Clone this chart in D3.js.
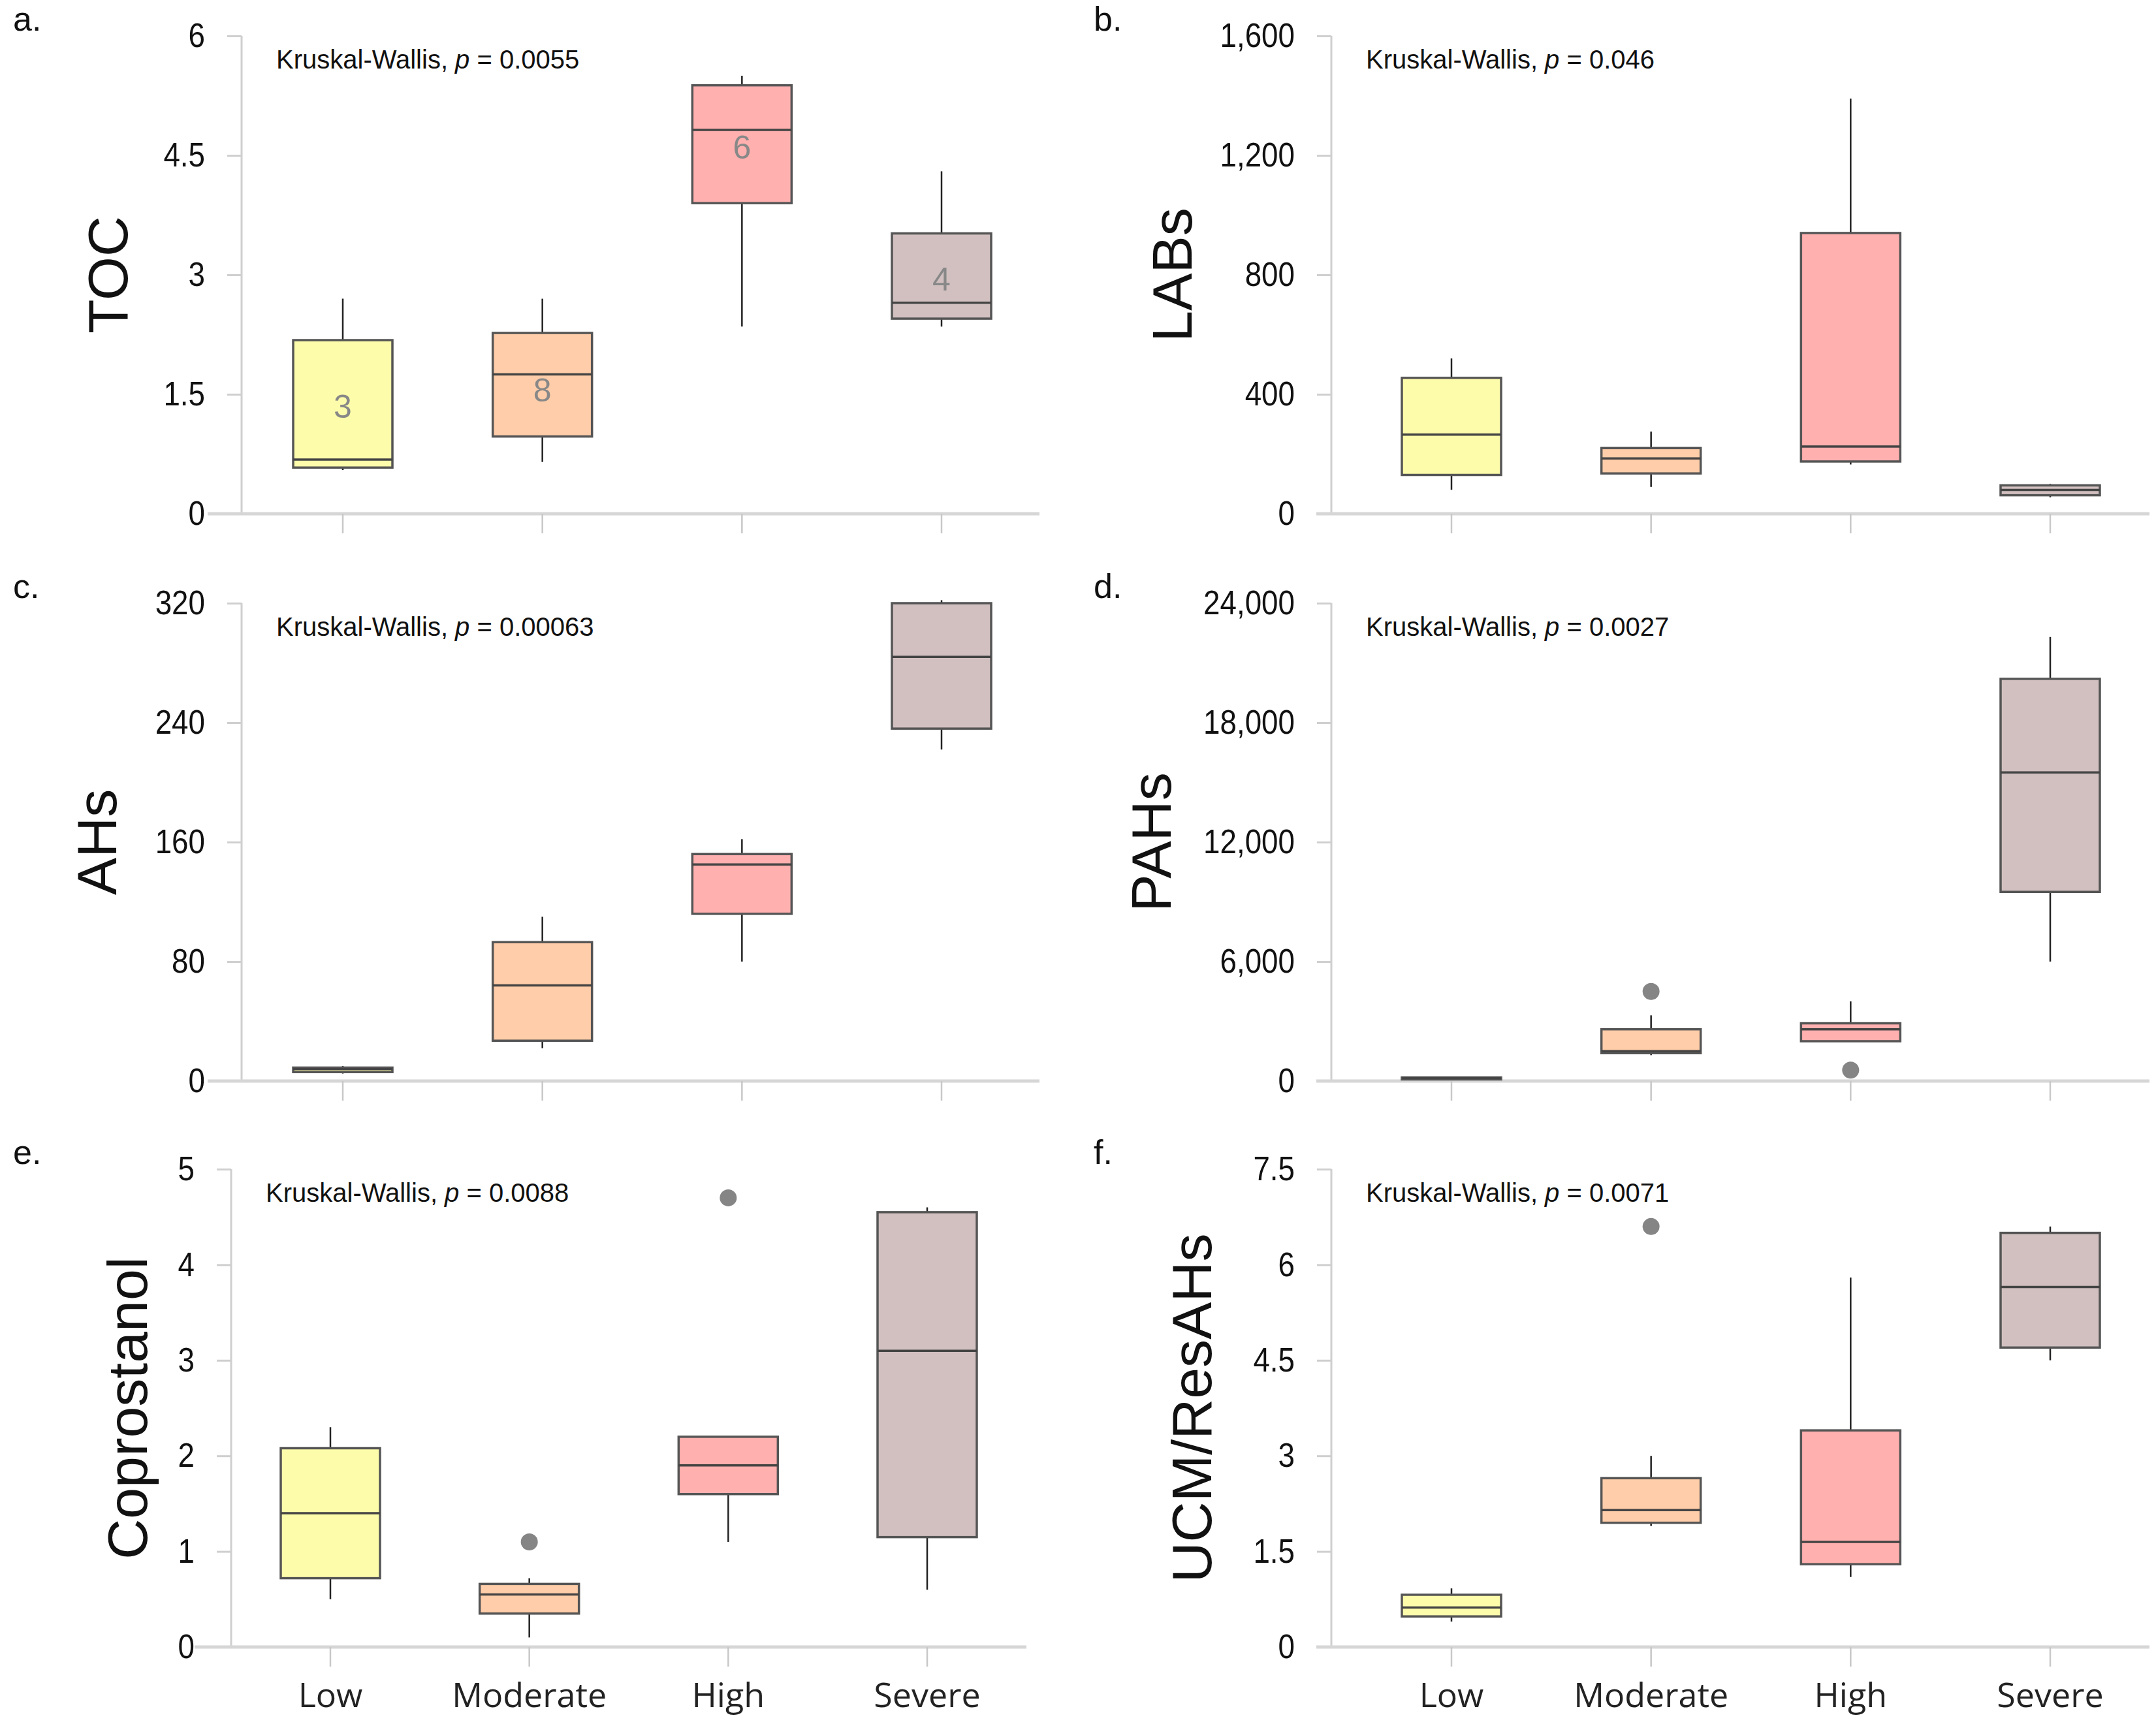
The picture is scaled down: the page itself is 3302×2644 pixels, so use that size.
<!DOCTYPE html>
<html><head><meta charset="utf-8">
<script src="https://cdn.jsdelivr.net/npm/d3@7"></script>
<style>body{margin:0;background:#fff}</style>
</head><body>
<svg id="chart" width="3302" height="2644"></svg>
<script>
// groups
var categories = ["Low", "Moderate", "High", "Severe"];
var fills = ["#fdfcab", "#ffcda9", "#ffb0af", "#d2c0c0"];

// each panel: [min, q1, median, q3, max] per group
var tocStats = [[0.55,0.58,0.68,2.18,2.7],[0.65,0.97,1.75,2.27,2.7],[2.35,3.9,4.82,5.38,5.5],[2.35,2.45,2.65,3.52,4.3]];
var tocCounts = [3, 8, 6, 4];
var tocCountPos = [1.35, 1.55, 4.6, 2.95];
var labStats = [[80,130,265,455,520],[90,135,185,220,275],[165,175,225,940,1390],[55,62,80,95,100]];
var ahStats = [[5,6,8,9,10],[22,27,64,93,110],[80,112,145,152,162],[222,236,284,320,322]];
var pahStats = [[100,120,150,180,200],[1300,1400,1500,2600,3300],[2000,2000,2600,2900,4000],[6000,9500,15500,20200,22300]];
var pahOutliers = [[],[4500],[550],[]];
var copStats = [[0.5,0.72,1.4,2.08,2.3],[0.1,0.35,0.55,0.66,0.72],[1.1,1.6,1.9,2.2,2.2],[0.6,1.15,3.1,4.55,4.6]];
var copOutliers = [[],[1.1],[4.7],[]];
var ucmStats = [[0.4,0.48,0.62,0.82,0.92],[1.9,1.95,2.15,2.65,3.0],[1.1,1.3,1.65,3.4,5.8],[4.5,4.7,5.65,6.5,6.6]];
var ucmOutliers = [[],[6.6],[],[]];

var tocTicks = [0,1.5,3,4.5,6];
var labTicks = [0,400,800,1200,1600];
var ahTicks = [0,80,160,240,320];
var pahTicks = [0,6000,12000,18000,24000];
var copTicks = [0,1,2,3,4,5];
var ucmTicks = [0,1.5,3,4.5,6,7.5];

var panels = [
  {tag:"a.", title:"TOC", p:"0.0055", stats:tocStats, ticks:tocTicks, out:null, counts:tocCounts, countPos:tocCountPos,
   ax:370, top:55, bottom:787, x0:318, x1:1592, c0:525, c1:1442, tx:165},
  {tag:"b.", title:"LABs", p:"0.046", stats:labStats, ticks:labTicks, out:null,
   ax:2039, top:55, bottom:787, x0:2016, x1:3292, c0:2223, c1:3140, tx:1795},
  {tag:"c.", title:"AHs", p:"0.00063", stats:ahStats, ticks:ahTicks, out:null,
   ax:370, top:924, bottom:1656, x0:318, x1:1592, c0:525, c1:1442, tx:148},
  {tag:"d.", title:"PAHs", p:"0.0027", stats:pahStats, ticks:pahTicks, out:pahOutliers,
   ax:2039, top:924, bottom:1656, x0:2016, x1:3292, c0:2223, c1:3140, tx:1763},
  {tag:"e.", title:"Coprostanol", p:"0.0088", stats:copStats, ticks:copTicks, out:copOutliers,
   ax:354, top:1791, bottom:2523, x0:298, x1:1572, c0:506, c1:1420, tx:195, xlabels:true},
  {tag:"f.", title:"UCM/ResAHs", p:"0.0071", stats:ucmStats, ticks:ucmTicks, out:ucmOutliers,
   ax:2039, top:1791, bottom:2523, x0:2016, x1:3292, c0:2223, c1:3140, tx:1825, xlabels:true}
];

var svg = d3.select("#chart");
var fmt = d3.format(",");

panels.forEach(function(pn) {
  var g = svg.append("g");
  var y = d3.scaleLinear().domain([0, pn.ticks[pn.ticks.length-1]]).range([pn.bottom, pn.top]);
  var x = d3.scalePoint().domain(categories).range([pn.c0, pn.c1]);
  var bw = 152;

  // y axis
  var ya = g.append("g").attr("transform", "translate(" + pn.ax + ",0)")
    .call(d3.axisLeft(y).tickValues(pn.ticks).tickSize(22).tickPadding(34).tickFormat(fmt));
  ya.select(".domain").attr("stroke", "#cfcfcf").attr("stroke-width", 3).attr("d", "M0," + pn.bottom + "V" + pn.top);
  ya.selectAll(".tick line").attr("stroke", "#cfcfcf").attr("stroke-width", 3);
  ya.selectAll(".tick text").attr("font-family", "'Liberation Sans', Arial")
    .attr("font-size", 52).attr("fill", "#111")
    .attr("transform", "scale(0.88,1)").attr("x", -56 / 0.88);

  // x axis
  g.append("line").attr("x1", pn.x0).attr("x2", pn.x1).attr("y1", pn.bottom).attr("y2", pn.bottom)
    .attr("stroke", "#d6d6d6").attr("stroke-width", 5);
  g.selectAll(".xt").data(categories).enter().append("line")
    .attr("x1", d => x(d)).attr("x2", d => x(d)).attr("y1", pn.bottom).attr("y2", pn.bottom + 30)
    .attr("stroke", "#c8c8c8").attr("stroke-width", 2.5);
  if (pn.xlabels) {
    g.selectAll(".xl").data(categories).enter().append("text")
      .attr("x", d => x(d)).attr("y", pn.bottom + 92).attr("text-anchor", "middle")
      .attr("font-family", "'Open Sans', sans-serif").attr("font-size", 52).attr("fill", "#222").text(d => d);
  }

  // boxes
  pn.stats.forEach(function(s, i) {
    var cx = x(categories[i]);
    g.append("line").attr("x1", cx).attr("x2", cx).attr("y1", y(s[0])).attr("y2", y(s[4]))
      .attr("stroke", "#222").attr("stroke-width", 2.5);
    g.append("rect").attr("x", cx - bw/2).attr("width", bw).attr("y", y(s[3]))
      .attr("height", Math.max(y(s[1]) - y(s[3]), 3))
      .attr("fill", fills[i]).attr("stroke", "#555").attr("stroke-width", 3.5);
    g.append("line").attr("x1", cx - bw/2).attr("x2", cx + bw/2).attr("y1", y(s[2])).attr("y2", y(s[2]))
      .attr("stroke", "#444").attr("stroke-width", 3.5);
    if (pn.out) pn.out[i].forEach(function(o) {
      g.append("circle").attr("cx", cx).attr("cy", y(o)).attr("r", 13).attr("fill", "#858585");
    });
    if (pn.counts) {
      g.append("text").attr("x", cx).attr("y", y(pn.countPos[i])).attr("dy", "0.35em")
        .attr("text-anchor", "middle").attr("font-family", "'Liberation Sans', Arial")
        .attr("font-size", 50).attr("fill", "#888").text(pn.counts[i]);
    }
  });

  // annotation
  var t = g.append("text").attr("x", pn.ax + 53).attr("y", pn.top + 50)
    .attr("font-family", "'Liberation Sans', Arial").attr("font-size", 40).attr("fill", "#111");
  t.append("tspan").text("Kruskal-Wallis, ");
  t.append("tspan").attr("font-style", "italic").text("p");
  t.append("tspan").text(" = " + pn.p);

  // titles
  g.append("text").attr("transform", "translate(" + (pn.tx + 30) + "," + ((pn.top + pn.bottom)/2) + ") rotate(-90)")
    .attr("text-anchor", "middle").attr("font-family", "'Liberation Sans', Arial").attr("font-size", 86)
    .attr("fill", "#111").text(pn.title);
  g.append("text").attr("x", pn.ax < 1000 ? 20 : 1675).attr("y", pn.top - 8)
    .attr("font-family", "'Liberation Sans', Arial").attr("font-size", 52).attr("fill", "#111").text(pn.tag);
});
</script>
</body></html>
